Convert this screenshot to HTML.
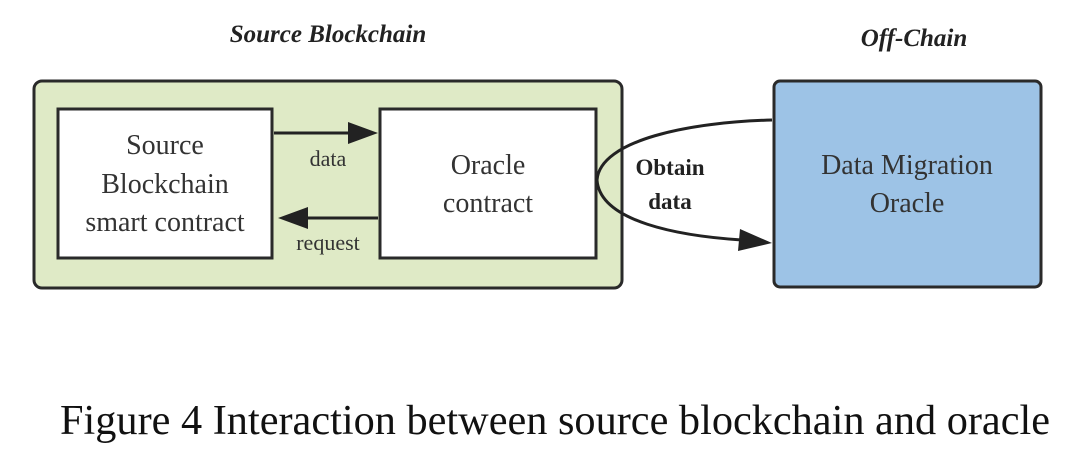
<!DOCTYPE html>
<html><head><style>
body{margin:0;width:1080px;height:466px;background:#fff;overflow:hidden;}
svg{display:block}
</style></head><body>
<svg width="1080" height="466" viewBox="0 0 1080 466" xmlns="http://www.w3.org/2000/svg">
<text x="328" y="42" font-family="Liberation Serif, serif" font-size="25" font-weight="bold" font-style="italic" text-anchor="middle" fill="#222">Source Blockchain</text>
<text x="914" y="46" font-family="Liberation Serif, serif" font-size="25" font-weight="bold" font-style="italic" text-anchor="middle" fill="#222">Off-Chain</text>
<rect x="34" y="81" width="588" height="207" rx="8" fill="#dfeac6" stroke="#2a2a2a" stroke-width="3"/>
<rect x="58" y="109" width="214" height="149" fill="#fff" stroke="#2a2a2a" stroke-width="3"/>
<rect x="380" y="109" width="216" height="149" fill="#fff" stroke="#2a2a2a" stroke-width="3"/>
<rect x="774" y="81" width="267" height="206" rx="6" fill="#9dc3e6" stroke="#2a2a2a" stroke-width="3"/>
<g font-family="Liberation Serif, serif" fill="#333" text-anchor="middle">
<text x="165" y="154" font-size="28">Source</text>
<text x="165" y="193" font-size="28">Blockchain</text>
<text x="165" y="231" font-size="28">smart contract</text>
<text x="488" y="174" font-size="28">Oracle</text>
<text x="488" y="212" font-size="28">contract</text>
<text x="907" y="174" font-size="28">Data Migration</text>
<text x="907" y="212" font-size="28">Oracle</text>
<text x="328" y="166" font-size="22">data</text>
<text x="328" y="250" font-size="22">request</text>
<text x="670" y="175" font-size="23" font-weight="bold" fill="#222">Obtain</text>
<text x="670" y="209" font-size="23" font-weight="bold" fill="#222">data</text>
</g>
<line x1="274" y1="133" x2="350" y2="133" stroke="#222" stroke-width="3"/>
<polygon points="348,122 378,133 348,144" fill="#222"/>
<line x1="378" y1="218" x2="306" y2="218" stroke="#222" stroke-width="3"/>
<polygon points="308,207 278,218 308,229" fill="#222"/>
<path d="M772,120 C690,122 600,140 597,180 C600,222 680,236 742,240" fill="none" stroke="#222" stroke-width="3"/>
<polygon points="740,229 772,243 738,251" fill="#222"/>
<text x="60" y="434" font-family="Liberation Serif, serif" font-size="42" fill="#111" textLength="990" lengthAdjust="spacingAndGlyphs">Figure 4 Interaction between source blockchain and oracle</text>
</svg>
</body></html>
